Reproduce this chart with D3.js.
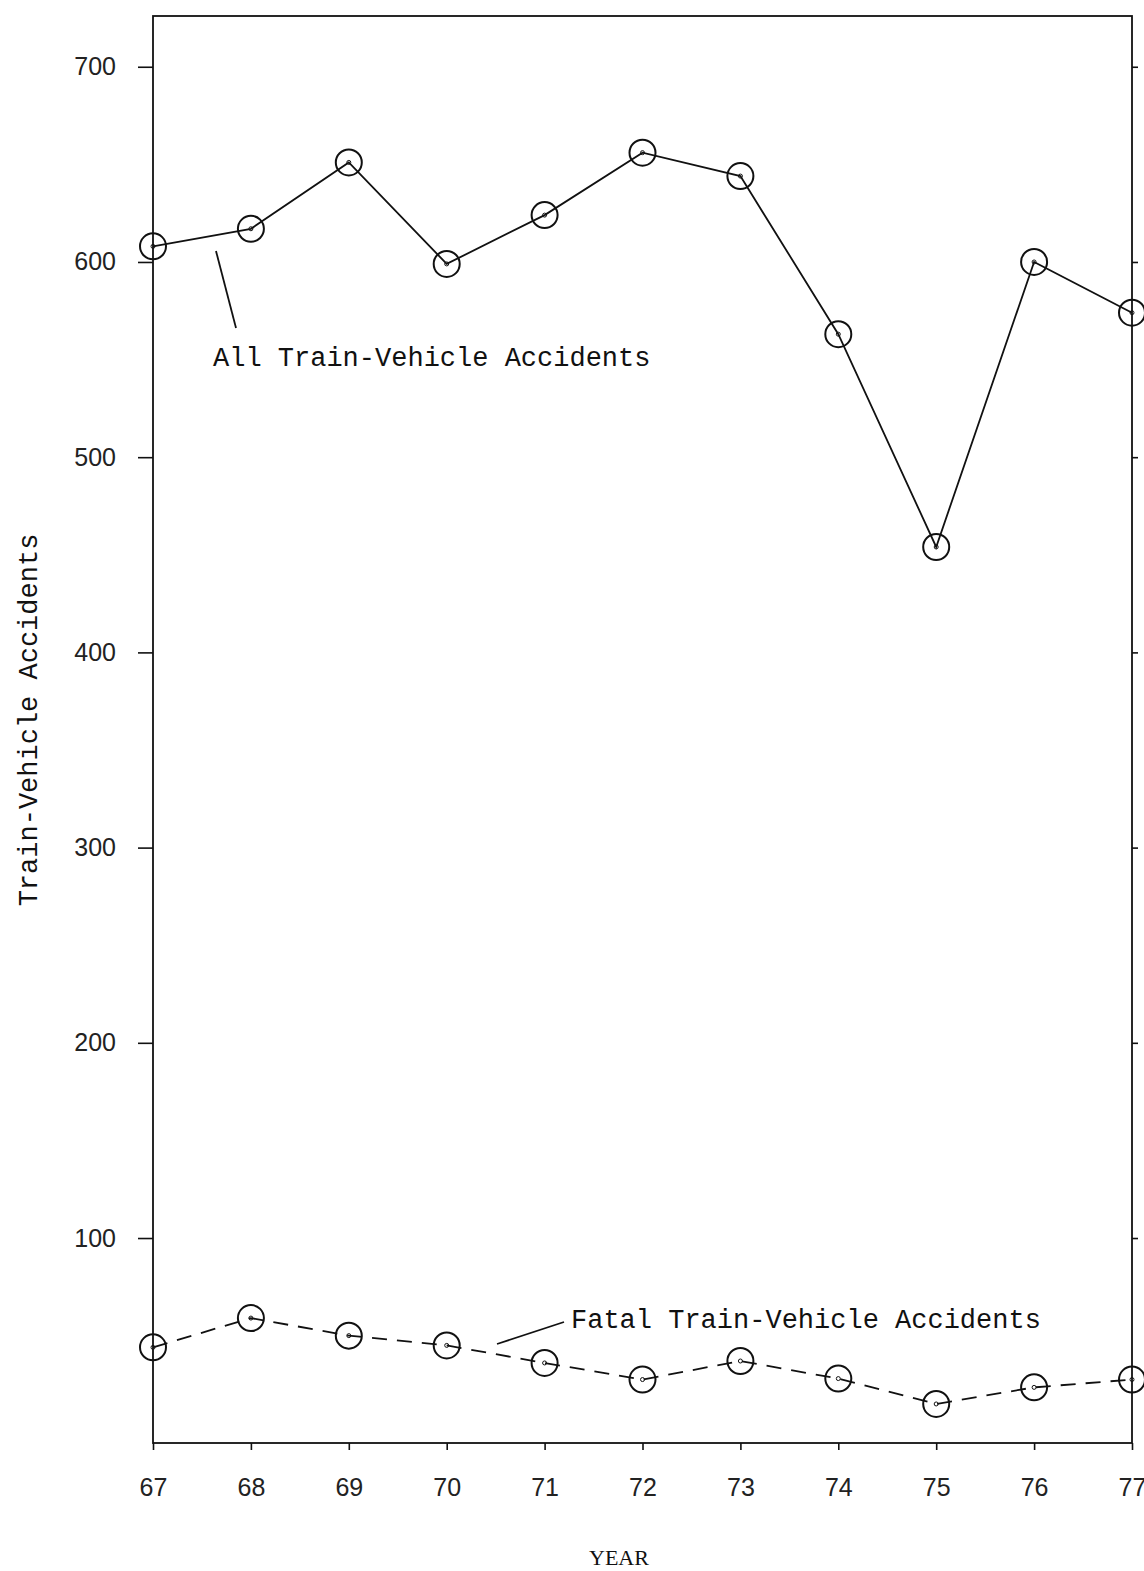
<!DOCTYPE html>
<html>
<head>
<meta charset="utf-8">
<script src="https://cdn.jsdelivr.net/npm/d3@7"></script>
<style>
  body { margin: 0; background: #fff; }
  svg { display: block; }
  .tick text { font-family: "Liberation Sans", Arial, sans-serif; fill: #222; }
</style>
</head>
<body>
<div id="chart"></div>
<script>

// data
var years = [67, 68, 69, 70, 71, 72, 73, 74, 75, 76, 77];
var allAccidents = [608, 617, 651, 599, 624, 656, 644, 563, 454, 600, 574];
var fatalAccidents = [44, 59, 50, 45, 36, 27.5, 37, 28, 15, 23.5, 27.5];
var yTicks = [100, 200, 300, 400, 500, 600, 700];

var width = 1144, height = 1571;
var plotLeft = 153, plotRight = 1132, plotTop = 16, plotBottom = 1443;

var svg = d3.select('#chart')
	.append('svg')
	.attr('width', width)
	.attr('height', height);

var x = d3.scaleLinear().domain([67, 77]).range([plotLeft, plotRight]);
var y = d3.scaleLinear().domain([-5, 726]).range([plotBottom, plotTop]);

// frame
svg.append('rect')
	.attr('x', plotLeft).attr('y', plotTop)
	.attr('width', plotRight - plotLeft).attr('height', plotBottom - plotTop)
	.attr('fill', 'none').attr('stroke', '#111').attr('stroke-width', 1.8);

// axes
var yAxis = svg.append('g')
	.attr('transform', 'translate(' + plotLeft + ',0)')
	.call(d3.axisLeft(y).tickValues(yTicks).tickSize(15).tickPadding(22));
yAxis.selectAll('text').style('font-size', '25px');

var yAxisR = svg.append('g')
	.attr('transform', 'translate(' + plotRight + ',0)')
	.call(d3.axisRight(y).tickValues(yTicks).tickSize(6).tickFormat(''));

var xAxis = svg.append('g')
	.attr('transform', 'translate(0,' + plotBottom + ')')
	.call(d3.axisBottom(x).tickValues(years).tickSize(7).tickPadding(28).tickFormat(d3.format('d')));
xAxis.selectAll('text').style('font-size', '25px');

svg.selectAll('.domain').remove();
svg.selectAll('.tick line').attr('stroke', '#111').attr('stroke-width', 1.6);

// series
var line = d3.line()
	.x(function(d, i) { return x(years[i]); })
	.y(function(d) { return y(d); });

svg.append('path')
	.datum(allAccidents)
	.attr('d', line)
	.attr('fill', 'none').attr('stroke', '#111').attr('stroke-width', 1.8);

svg.append('path')
	.datum(fatalAccidents)
	.attr('d', line)
	.attr('fill', 'none').attr('stroke', '#111').attr('stroke-width', 1.8)
	.attr('stroke-dasharray', '15,10');

[allAccidents, fatalAccidents].forEach(function(series) {
	var g = svg.append('g');
	g.selectAll('circle.mark')
		.data(series)
		.enter()
		.append('circle')
		.attr('class', 'mark')
		.attr('cx', function(d, i) { return x(years[i]); })
		.attr('cy', function(d) { return y(d); })
		.attr('r', 13)
		.attr('fill', 'none').attr('stroke', '#111').attr('stroke-width', 2);
	g.selectAll('circle.dot')
		.data(series)
		.enter()
		.append('circle')
		.attr('class', 'dot')
		.attr('cx', function(d, i) { return x(years[i]); })
		.attr('cy', function(d) { return y(d); })
		.attr('r', 2)
		.attr('fill', 'none').attr('stroke', '#111').attr('stroke-width', 1);
});

// labels
var mono = '"Liberation Mono", "Courier New", monospace';

svg.append('line')
	.attr('x1', 216).attr('y1', 251).attr('x2', 236).attr('y2', 328)
	.attr('stroke', '#111').attr('stroke-width', 1.8);
svg.append('text')
	.attr('x', 213).attr('y', 366)
	.style('font-family', mono).style('font-size', '27px').attr('fill', '#111')
	.text('All Train-Vehicle Accidents');

svg.append('line')
	.attr('x1', 497).attr('y1', 1344).attr('x2', 564).attr('y2', 1322)
	.attr('stroke', '#111').attr('stroke-width', 1.8);
svg.append('text')
	.attr('x', 571).attr('y', 1328)
	.style('font-family', mono).style('font-size', '27px').attr('fill', '#111')
	.text('Fatal Train-Vehicle Accidents');

svg.append('text')
	.attr('transform', 'translate(37,720) rotate(-90)')
	.attr('text-anchor', 'middle')
	.style('font-family', mono).style('font-size', '27px').attr('fill', '#111')
	.text('Train-Vehicle Accidents');

svg.append('text')
	.attr('x', 619).attr('y', 1565)
	.attr('text-anchor', 'middle')
	.style('font-family', '"Liberation Serif", "Times New Roman", serif').style('font-size', '22px').attr('fill', '#111')
	.text('YEAR');

</script>
</body>
</html>
